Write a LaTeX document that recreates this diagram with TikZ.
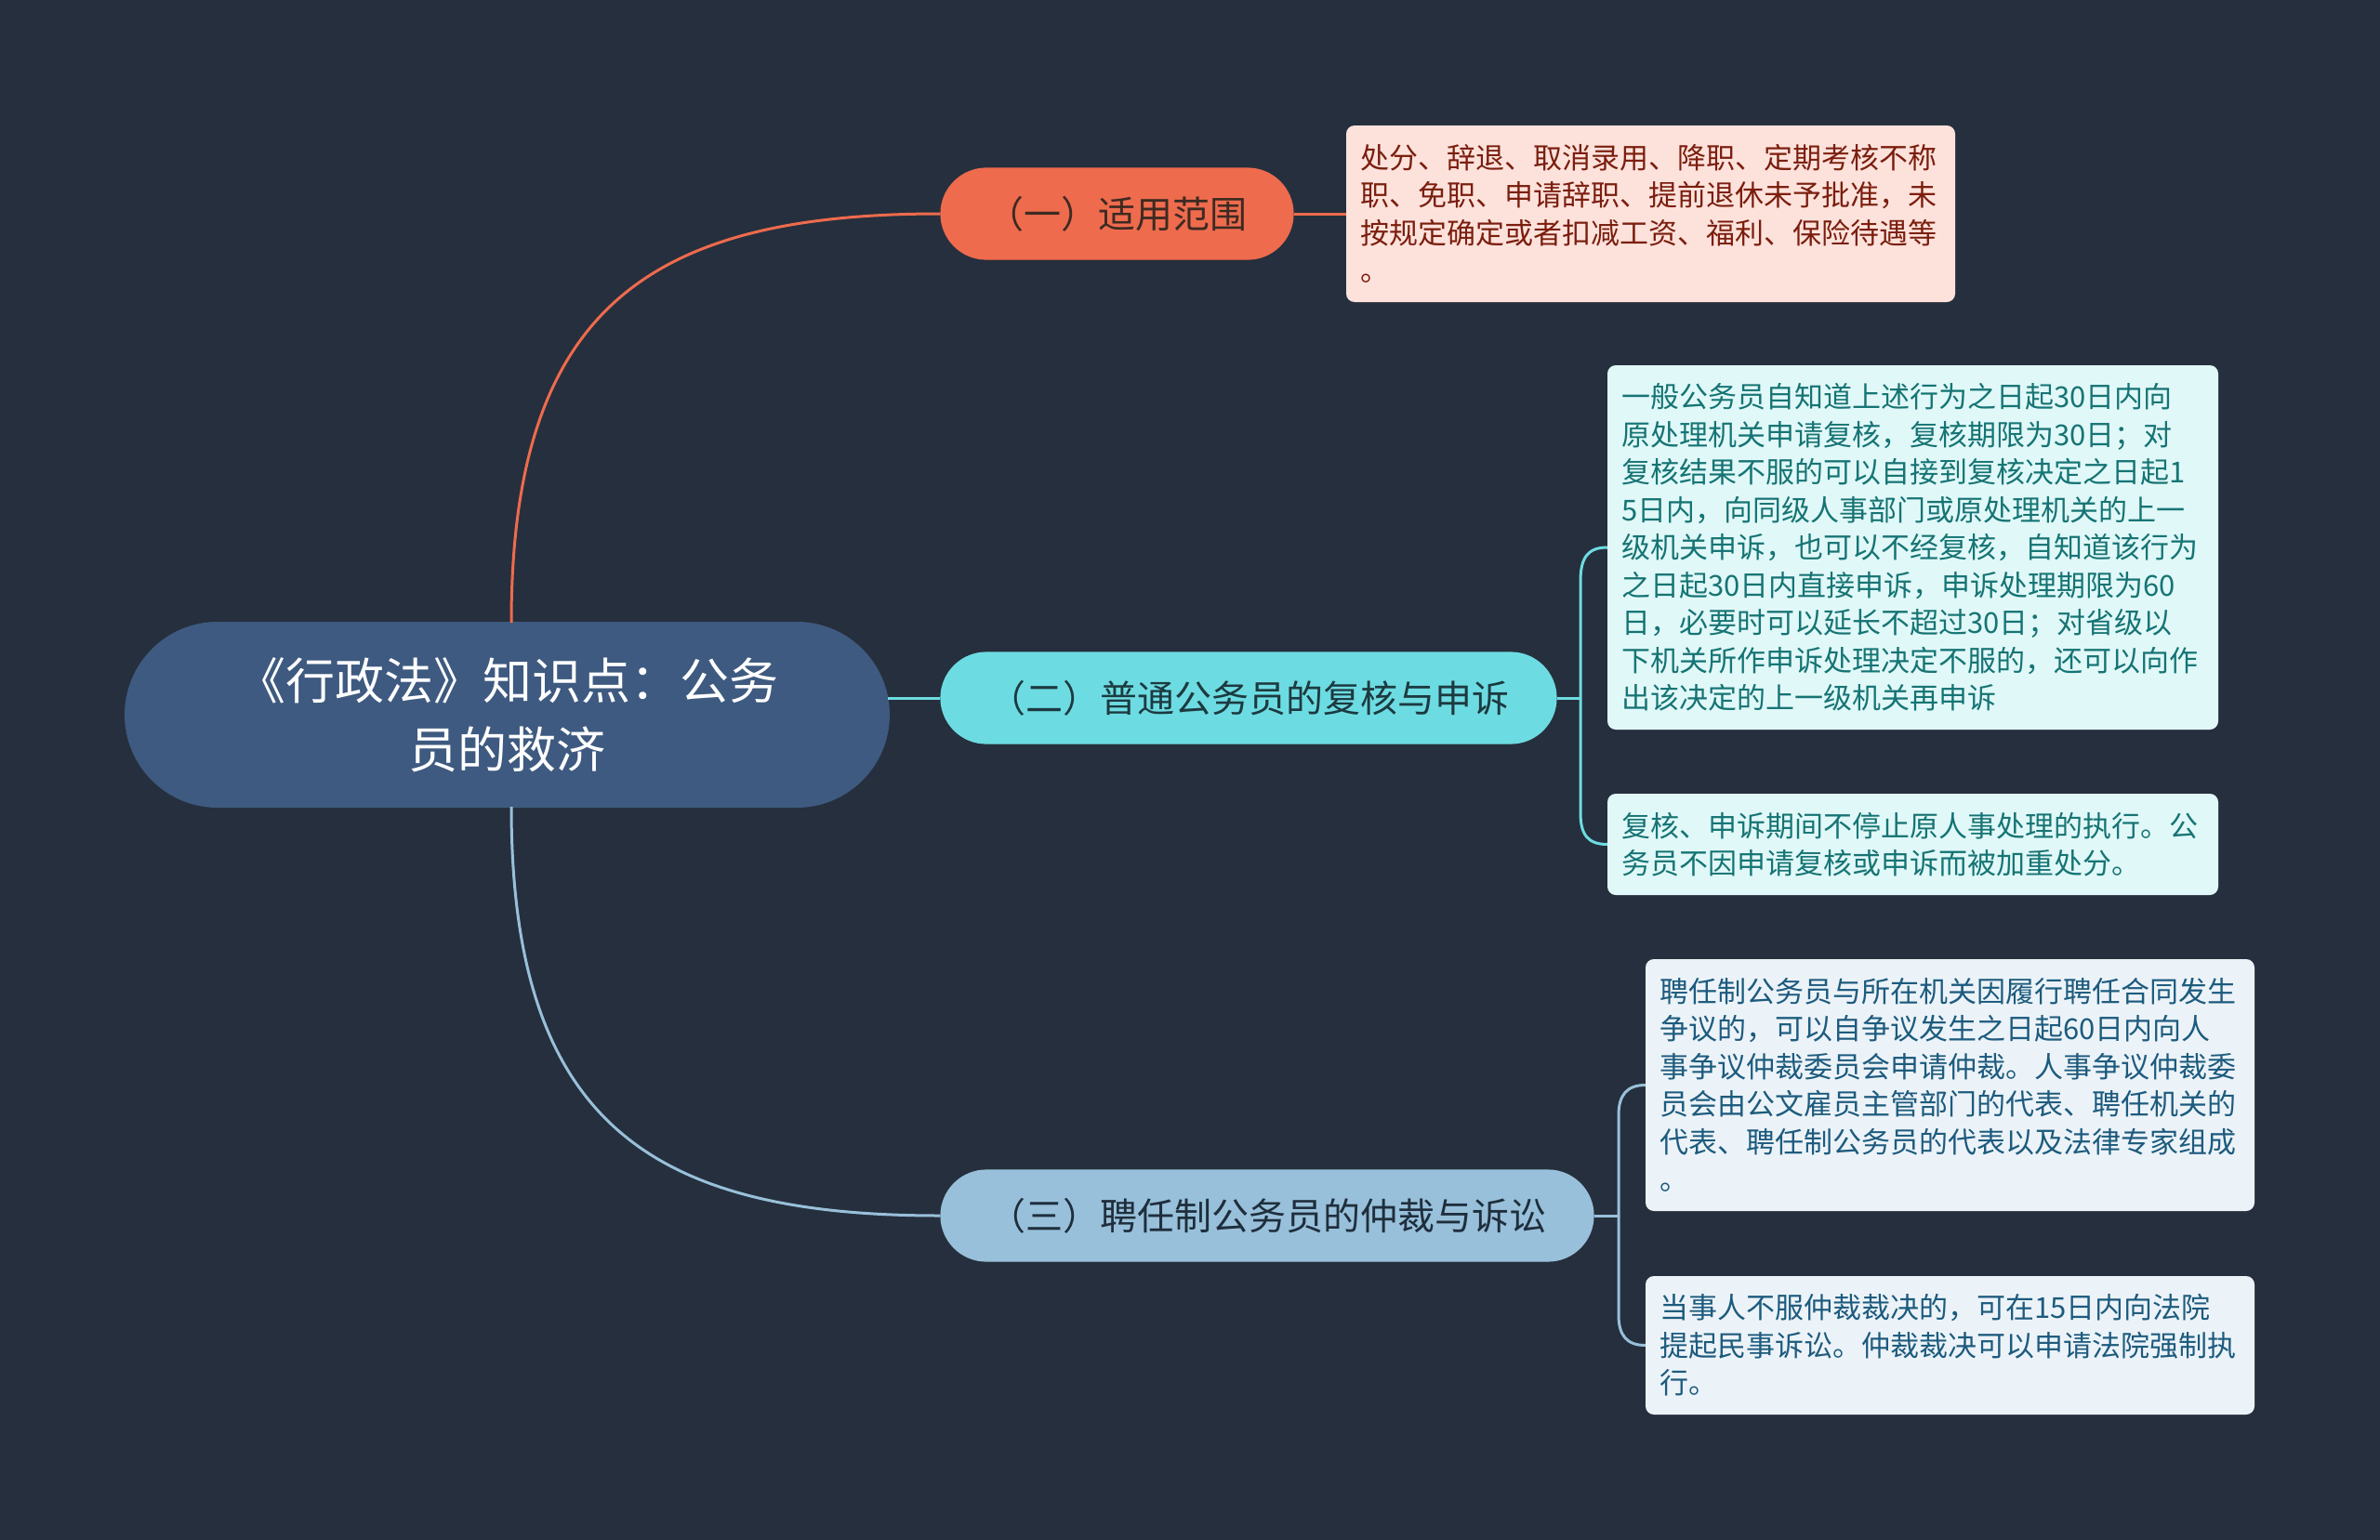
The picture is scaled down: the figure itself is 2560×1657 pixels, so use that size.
\documentclass[tikz,border=0pt]{standalone}
\usepackage{fontspec}
\setmainfont{Noto Sans CJK SC}
\definecolor{bgc}{HTML}{262F3D}
\definecolor{rootc}{HTML}{3E5A80}
\definecolor{orc}{HTML}{EE6B4D}
\definecolor{cyc}{HTML}{6DDCE2}
\definecolor{lbc}{HTML}{98C0DA}
\definecolor{l1fill}{HTML}{FDE2DC}
\definecolor{l1text}{HTML}{7B1E0E}
\definecolor{l2fill}{HTML}{E1F8F8}
\definecolor{l2text}{HTML}{167474}
\definecolor{l3fill}{HTML}{ECF3F8}
\definecolor{l3text}{HTML}{1D5B7E}
\definecolor{b1text}{HTML}{3D2A22}
\definecolor{b2text}{HTML}{1C3A40}
\definecolor{b3text}{HTML}{1F2E3C}
\begin{document}
\begin{tikzpicture}[x=1pt,y=-1pt,
  brnode/.style={rounded corners=49pt, minimum height=98pt, inner sep=0pt,
    font=\fontsize{40}{48}\selectfont, line width=1.2pt},
  leafbox/.style={rounded corners=9pt, align=left, inner xsep=15pt, inner ysep=0pt,
    font=\fontsize{31}{40.5}\selectfont},
  conn/.style={line width=3pt}
]
\fill[bgc] (0,0) rectangle (2560,1657);
\useasboundingbox (0,0) rectangle (2560,1657);

% root
\node[fill=rootc, rounded corners=100pt, minimum width=823pt, minimum height=200pt,
  inner sep=0pt, align=center, text=white, font=\fontsize{53}{74}\selectfont]
  (root) at (545.5,769) {《行政法》知识点：公务\\员的救济};

% branches
\node[brnode, fill=orc, draw=orc, minimum width=379pt, text=b1text] (b1) at (1201.5,230) {（一）适用范围};
\node[brnode, fill=cyc, draw=cyc, minimum width=662pt, text=b2text] (b2) at (1343,751) {（二）普通公务员的复核与申诉};
\node[brnode, fill=lbc, draw=lbc, minimum width=702pt, text=b3text] (b3) at (1363,1308) {（三）聘任制公务员的仲裁与诉讼};

% leaves
\node[leafbox, fill=l1fill, text=l1text, text width=625pt, minimum height=190pt] (l1) at (1775.5,230)
 {处分、辞退、取消录用、降职、定期考核不称\\职、免职、申请辞职、提前退休未予批准，未\\按规定确定或者扣减工资、福利、保险待遇等\\。};
\node[leafbox, fill=l2fill, text=l2text, text width=627pt, minimum height=392pt] (l2) at (2057.5,589)
 {一般公务员自知道上述行为之日起30日内向\\原处理机关申请复核，复核期限为30日；对\\复核结果不服的可以自接到复核决定之日起1\\5日内，向同级人事部门或原处理机关的上一\\级机关申诉，也可以不经复核，自知道该行为\\之日起30日内直接申诉，申诉处理期限为60\\日，必要时可以延长不超过30日；对省级以\\下机关所作申诉处理决定不服的，还可以向作\\出该决定的上一级机关再申诉};
\node[leafbox, fill=l2fill, text=l2text, text width=627pt, minimum height=109pt] (l3) at (2057.5,908.5)
 {复核、申诉期间不停止原人事处理的执行。公\\务员不因申请复核或申诉而被加重处分。};
\node[leafbox, fill=l3fill, text=l3text, text width=625pt, minimum height=271pt] (l4) at (2097.5,1167.5)
 {聘任制公务员与所在机关因履行聘任合同发生\\争议的，可以自争议发生之日起60日内向人\\事争议仲裁委员会申请仲裁。人事争议仲裁委\\员会由公文雇员主管部门的代表、聘任机关的\\代表、聘任制公务员的代表以及法律专家组成\\。};
\node[leafbox, fill=l3fill, text=l3text, text width=625pt, minimum height=149pt] (l5) at (2097.5,1447.5)
 {当事人不服仲裁裁决的，可在15日内向法院\\提起民事诉讼。仲裁裁决可以申请法院强制执\\行。};

% junction coordinates
\coordinate (j2) at (1700,751);
\coordinate (j3) at (1741,1308);
\coordinate (rtop) at (550,670);
\coordinate (rbot) at (550,868);
\coordinate (rright) at (955,751);

% connectors
\draw[conn, orc] (rtop) .. controls (550,330) and (700,230) .. (b1.west);
\draw[conn, cyc] (rright) -- (b2.west);
\draw[conn, lbc] (rbot) .. controls (550,1208) and (700,1308) .. (b3.west);

\draw[conn, orc] (b1.east) -- (l1.west);

\draw[conn, cyc] (b2.east) -- (j2);
\draw[conn, cyc] (j2) -- (1700,625) .. controls (1700,600) and (1708,589) .. (l2.west);
\draw[conn, cyc] (j2) -- (1700,875) .. controls (1700,898) and (1708,908.5) .. (l3.west);

\draw[conn, lbc] (b3.east) -- (j3);
\draw[conn, lbc] (j3) -- (1741,1200) .. controls (1741,1178) and (1750,1167.5) .. (l4.west);
\draw[conn, lbc] (j3) -- (1741,1415) .. controls (1741,1437) and (1750,1447.5) .. (l5.west);
\end{tikzpicture}
\end{document}
